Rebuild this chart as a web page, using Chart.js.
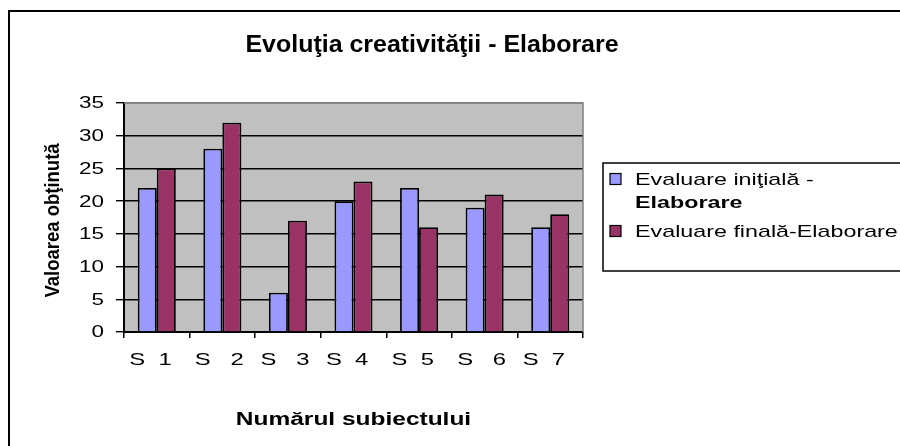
<!DOCTYPE html>
<html>
<head>
<meta charset="utf-8">
<script src="https://cdn.jsdelivr.net/npm/chart.js@4"></script>
<style>
  body { margin: 0; background: #fff; }
  #wrap { position: relative; width: 900px; height: 446px; overflow: hidden; }
  #frame { position: absolute; left: 8px; top: 10px; width: 1000px; height: 1000px; border: 2px solid #000; pointer-events: none; }
</style>
</head>
<body>
<div id="wrap">
  <canvas id="grafic" width="900" height="446"></canvas>
  <div id="frame"></div>
</div>
<script>
// date
const subiecti = ["S  1", "S   2", "S   3", "S  4", "S  5", "S   6", "S  7"];
const evaluareInitiala = [22, 28, 6, 20, 22, 19, 16];
const evaluareFinala = [25, 32, 17, 23, 16, 21, 18];
const titlu = "Evoluţia creativităţii - Elaborare";
const titluX = "Numărul subiectului";
const titluY = "Valoarea obţinută";
const legendaInitiala = ["Evaluare iniţială -", "Elaborare"];
const legendaFinala = ["Evaluare finală-Elaborare"];

const FONT = "'Liberation Sans', Arial, sans-serif";
Chart.defaults.font.family = FONT;
Chart.defaults.color = "#000";

// textul din original e latit pe orizontala
function textLatit(ctx, text, x, y, font, sx, align, baseline) {
  ctx.save();
  ctx.font = font;
  ctx.textAlign = align;
  ctx.textBaseline = baseline || "alphabetic";
  ctx.fillStyle = "#000";
  ctx.translate(x, y);
  ctx.scale(sx, 1);
  ctx.fillText(text, 0, 0);
  ctx.restore();
}

// fundal gri + chenar gri sus/dreapta
const fundalPlugin = {
  id: "fundal",
  beforeDraw(chart) {
    const { ctx, chartArea: a } = chart;
    ctx.save();
    ctx.fillStyle = "#C0C0C0";
    ctx.fillRect(a.left, a.top, a.right - a.left, a.bottom - a.top);
    ctx.restore();
  },
  afterDatasetsDraw(chart) {
    const { ctx, chartArea: a } = chart;
    ctx.save();
    ctx.strokeStyle = "#808080";
    ctx.lineWidth = 1.5;
    ctx.beginPath();
    ctx.moveTo(a.left, a.top);
    ctx.lineTo(a.right, a.top);
    ctx.lineTo(a.right, a.bottom);
    ctx.stroke();
    ctx.restore();
  }
};

// titluri si etichete
const textePlugin = {
  id: "texte",
  afterDraw(chart) {
    const { ctx, chartArea: a } = chart;
    const sx = chart.scales.x;
    const sy = chart.scales.y;

    textLatit(ctx, titlu, 432, 52, "bold 24px " + FONT, 1.04, "center");

    sy.ticks.forEach((t) => {
      textLatit(ctx, String(t.value), 104, sy.getPixelForValue(t.value) + 1, "16px " + FONT, 1.4, "right", "middle");
    });

    chart.data.labels.forEach((lab, i) => {
      textLatit(ctx, lab, sx.getPixelForTick(i) - 27.5, 365, "17px " + FONT, 1.4, "left");
    });

    textLatit(ctx, titluX, (a.left + a.right) / 2, 425, "bold 18px " + FONT, 1.36, "center");

    ctx.save();
    ctx.translate(53, (a.top + a.bottom) / 2 + 3);
    ctx.rotate(-Math.PI / 2);
    ctx.scale(1, 1.1);
    ctx.font = "bold 18.5px " + FONT;
    ctx.textAlign = "center";
    ctx.textBaseline = "middle";
    ctx.fillStyle = "#000";
    ctx.fillText(titluY, 0, 0);
    ctx.restore();
  }
};

// legenda desenata de mana (prima eticheta are a doua linie ingrosata)
const legendaPlugin = {
  id: "legendaProprie",
  afterDraw(chart) {
    const { ctx } = chart;
    ctx.save();
    ctx.strokeStyle = "#000";
    ctx.lineWidth = 1.5;
    ctx.strokeRect(603, 163, 320, 108);
    const intrari = [
      { ds: chart.data.datasets[0], linii: legendaInitiala, y: 185 },
      { ds: chart.data.datasets[1], linii: legendaFinala, y: 237 }
    ];
    intrari.forEach((it) => {
      ctx.fillStyle = it.ds.backgroundColor;
      ctx.fillRect(610, it.y - 11.5, 11, 11);
      ctx.lineWidth = 1.2;
      ctx.strokeRect(610, it.y - 11.5, 11, 11);
      it.linii.forEach((t, i) => {
        textLatit(ctx, t, 635, it.y + i * 23, (i > 0 ? "bold " : "") + "17px " + FONT, 1.37, "left");
      });
    });
    ctx.restore();
  }
};

new Chart(document.getElementById("grafic"), {
  type: "bar",
  data: {
    labels: subiecti,
    datasets: [
      {
        label: legendaInitiala.join(" "),
        data: evaluareInitiala,
        backgroundColor: "#9999FF",
        borderColor: "#000",
        borderWidth: 1.8
      },
      {
        label: legendaFinala.join(" "),
        data: evaluareFinala,
        backgroundColor: "#993366",
        borderColor: "#000",
        borderWidth: 1.8
      }
    ]
  },
  options: {
    responsive: false,
    animation: false,
    categoryPercentage: 0.58,
    barPercentage: 1,
    layout: { padding: { left: 40, right: 317, top: 103, bottom: 0 } },
    plugins: {
      legend: { display: false },
      title: { display: false },
      tooltip: { enabled: false }
    },
    scales: {
      x: {
        afterFit: (s) => { s.height = 114; },
        grid: { drawOnChartArea: false, drawTicks: true, tickLength: 6, color: "#000", lineWidth: 1.5 },
        border: { display: true, color: "#000", width: 2 },
        ticks: { display: false }
      },
      y: {
        min: 0,
        max: 35,
        afterFit: (s) => { s.width = 84; },
        grid: {
          color: (c) => (c.tick && c.tick.value === 35 ? "#808080" : "#000"),
          tickColor: "#000",
          lineWidth: 1.4,
          tickLength: 8
        },
        border: { display: true, color: "#000", width: 2 },
        ticks: { stepSize: 5, display: false }
      }
    }
  },
  plugins: [fundalPlugin, textePlugin, legendaPlugin]
});
</script>
</body>
</html>
